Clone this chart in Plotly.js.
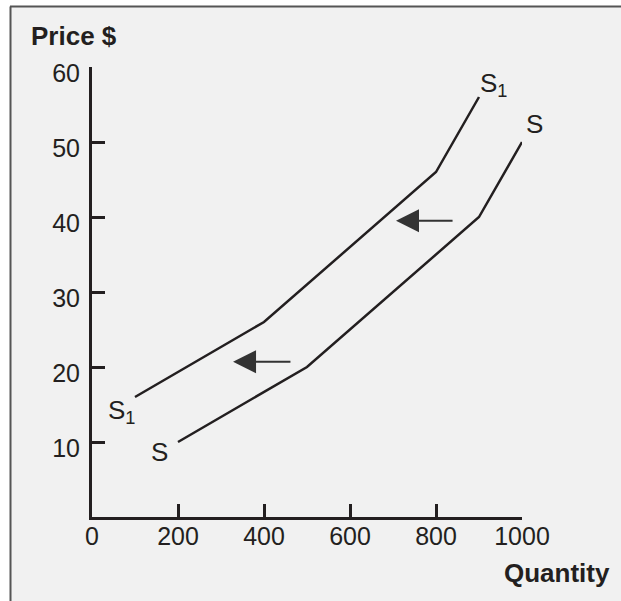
<!DOCTYPE html>
<html>
<head>
<meta charset="utf-8">
<script src="https://cdn.plot.ly/plotly-3.0.1.min.js"></script>
<style>html,body{margin:0;padding:0;background:#fff;}#chart{width:621px;height:601px;}</style>
</head>
<body>
<div id="chart"></div>
<script>
// Supply curve S (original)
const sQuantity = [200, 500, 900, 1000];
const sPrice = [10, 20, 40, 50];
// Supply curve S1 (shifted)
const s1Quantity = [100, 400, 800, 900];
const s1Price = [16, 26, 46, 56];
// Shift arrows: tail quantity, head quantity, price level
const arrowTails = [465, 842];
const arrowHeads = [328, 707];
const arrowPrices = [20.7, 39.5];
// Axis ticks
const xTicks = [0, 200, 400, 600, 800, 1000];
const xTickText = ['0', '200', '400', '600', '800', '1000'];
const yTicks = [10, 20, 30, 40, 50, 60];
const yTickText = ['10', '20', '30', '40', '50', '60'];

const ink = '#231f20';
const fontFam = 'Liberation Sans, Arial, Helvetica, sans-serif';

const traces = [
  {x: sQuantity, y: sPrice, mode: 'lines', line: {color: ink, width: 2.5}, hoverinfo: 'skip', cliponaxis: false},
  {x: s1Quantity, y: s1Price, mode: 'lines', line: {color: ink, width: 2.5}, hoverinfo: 'skip', cliponaxis: false}
];

// pixel -> paper helpers (plot area: x 92..522, y 67..517)
const px = v => (v - 92) / 430;
const py = v => (517 - v) / 450;

const annotations = [];
for (let i = 0; i < arrowTails.length; i++) {
  annotations.push({
    x: arrowHeads[i], y: arrowPrices[i], xref: 'x', yref: 'y',
    ax: arrowTails[i], ay: arrowPrices[i], axref: 'x', ayref: 'y',
    text: '', showarrow: true, arrowhead: 2, arrowsize: 2.3, arrowwidth: 2,
    arrowcolor: '#333333'
  });
}
const labelFont = {family: fontFam, size: 26, color: ink};
const lbl = (x, y, text) => ({x: px(x), y: py(y), xref: 'paper', yref: 'paper',
  xanchor: 'center', yanchor: 'middle', text: text, showarrow: false, font: labelFont});
annotations.push(
  lbl(493, 84, 'S<sub>1</sub>'),
  lbl(534, 124, 'S'),
  lbl(121, 411, 'S<sub>1</sub>'),
  lbl(159, 452, 'S'),
  {x: px(29), y: py(36), xref: 'paper', yref: 'paper', xanchor: 'left', yanchor: 'middle',
   text: '<b>Price $</b>', showarrow: false, font: {family: fontFam, size: 26, color: ink}},
  {x: px(612), y: py(573), xref: 'paper', yref: 'paper', xanchor: 'right', yanchor: 'middle',
   text: '<b>Quantity</b>', showarrow: false, font: {family: fontFam, size: 26, color: ink}}
);

const layout = {
  width: 621, height: 601,
  margin: {l: 92, r: 99, t: 67, b: 84, pad: 0},
  paper_bgcolor: '#ffffff',
  plot_bgcolor: '#f1f1f1',
  showlegend: false,
  xaxis: {
    range: [0, 1000], tickvals: xTicks, ticktext: xTickText,
    showgrid: false, zeroline: false, showline: true, linecolor: ink, linewidth: 3,
    ticks: 'inside', ticklen: 13, tickwidth: 3, tickcolor: ink, ticklabelstandoff: -5,
    tickfont: {family: fontFam, size: 25, color: ink}, fixedrange: true
  },
  yaxis: {
    range: [0, 60], tickvals: yTicks, ticktext: yTickText,
    showgrid: false, zeroline: false, showline: true, linecolor: ink, linewidth: 3,
    ticks: 'inside', ticklen: 13, tickwidth: 3, tickcolor: ink, ticklabelstandoff: 4,
    ticklabelshift: 6,
    tickfont: {family: fontFam, size: 25, color: ink}, fixedrange: true
  },
  shapes: [
    {type: 'rect', xref: 'paper', yref: 'paper', layer: 'below',
     x0: px(10), x1: px(640), y0: py(640), y1: py(6.5),
     line: {width: 0}, fillcolor: '#f1f1f1'},
    {type: 'line', xref: 'paper', yref: 'paper', layer: 'above',
     x0: px(10), x1: px(640), y0: py(6.5), y1: py(6.5),
     line: {color: '#555555', width: 2}},
    {type: 'line', xref: 'paper', yref: 'paper', layer: 'above',
     x0: px(10.5), x1: px(10.5), y0: py(6.5), y1: py(640),
     line: {color: '#555555', width: 2}}
  ],
  annotations: annotations
};

Plotly.newPlot('chart', traces, layout, {displayModeBar: false, staticPlot: true});
</script>
</body>
</html>
